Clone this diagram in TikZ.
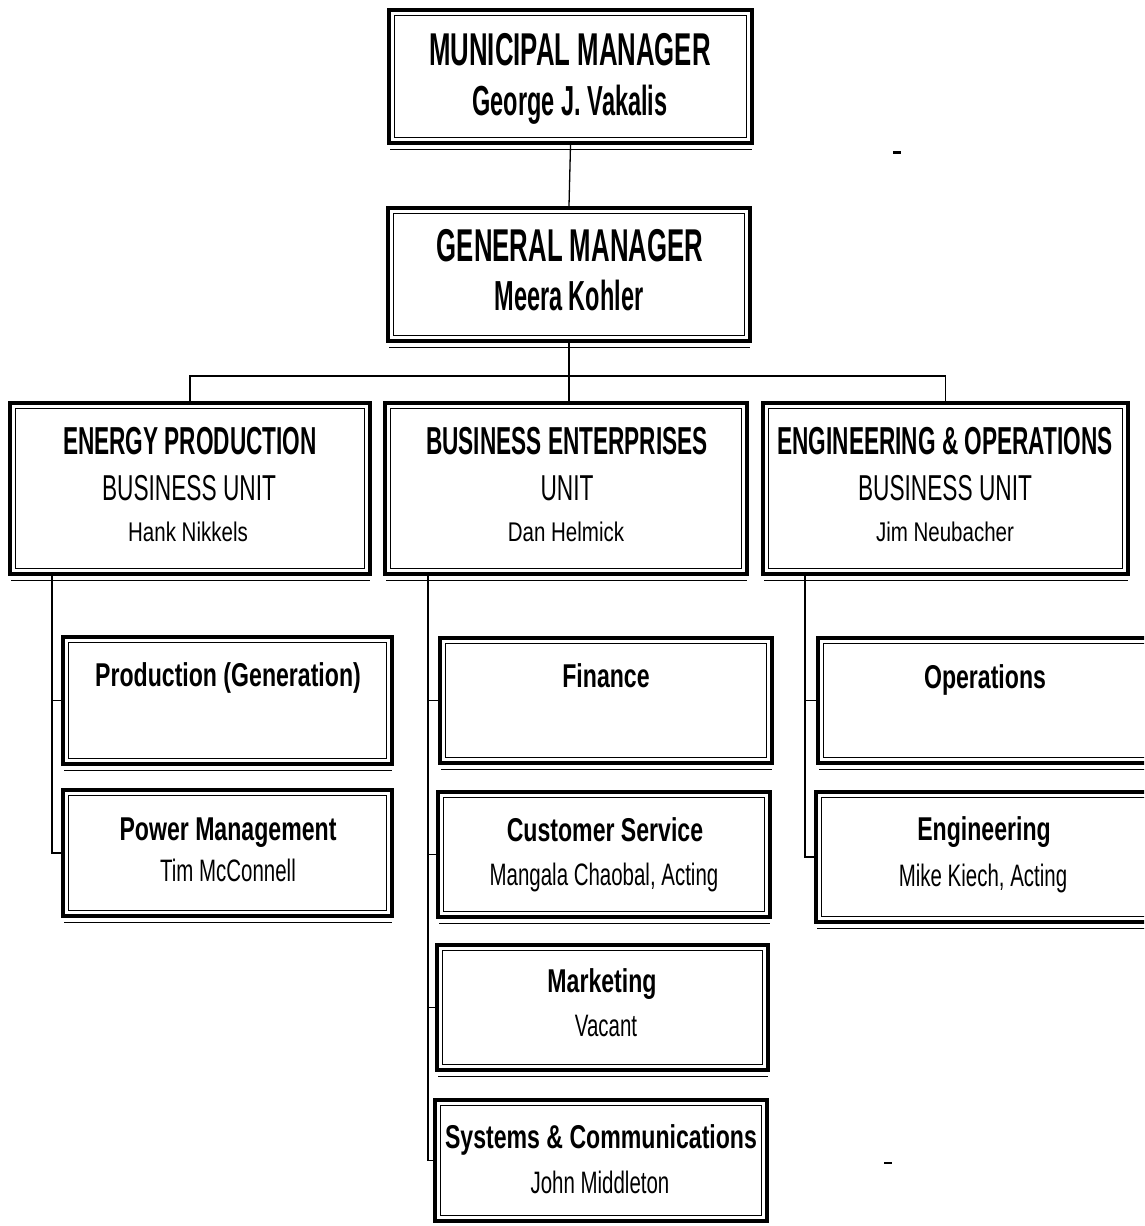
\documentclass[tikz,border=0pt]{standalone}
\usepackage{fontspec}
\newfontfamily\fTop[FakeStretch=0.56]{Liberation Sans}
\newfontfamily\fUnitA[FakeStretch=0.58]{Liberation Sans}
\newfontfamily\fUnitB[FakeStretch=0.63]{Liberation Sans}
\newfontfamily\fUnitC[FakeStretch=0.76]{Liberation Sans}
\newfontfamily\fSubA[FakeStretch=0.70]{Liberation Sans}
\newfontfamily\fSubB[FakeStretch=0.66]{Liberation Sans}
\begin{document}
\begin{tikzpicture}[x=1pt,y=-1pt,
  orgbox/.style={draw, line width=4pt, fill=white, inner sep=0pt,
    path picture={\draw[line width=1.3pt] ([shift={(5.5pt,-5.5pt)}]path picture bounding box.north west) rectangle ([shift={(-5.5pt,5.5pt)}]path picture bounding box.south east);}},
  link/.style={line width=1.3pt},
  shadowline/.style={line width=1.5pt},
  ttlA/.style={anchor=base, inner sep=0pt, font=\fTop\bfseries\fontsize{46}{46}\selectfont},
  ttlB/.style={anchor=base, inner sep=0pt, font=\fTop\bfseries\fontsize{42}{42}\selectfont},
  unitA/.style={anchor=base, inner sep=0pt, font=\fUnitA\bfseries\fontsize{39}{39}\selectfont},
  unitB/.style={anchor=base, inner sep=0pt, font=\fUnitB\fontsize{36}{36}\selectfont},
  unitC/.style={anchor=base, inner sep=0pt, font=\fUnitC\fontsize{27}{27}\selectfont},
  subA/.style={anchor=base, inner sep=0pt, font=\fSubA\bfseries\fontsize{33}{33}\selectfont},
  subB/.style={anchor=base, inner sep=0pt, font=\fSubB\fontsize{31}{31}\selectfont}
]
\useasboundingbox[fill=white] (0,0) rectangle (1144,1226);
\clip (0,0) rectangle (1144,1226);

% boxes
\node[orgbox, minimum width=363pt, minimum height=133pt] (mm) at (570.5,76.5) {};
\node[orgbox, minimum width=362pt, minimum height=133pt] (gm) at (569,274.5) {};
\node[orgbox, minimum width=360pt, minimum height=171pt] (ep) at (190,488.5) {};
\node[orgbox, minimum width=362pt, minimum height=171pt] (be) at (566,488.5) {};
\node[orgbox, minimum width=365pt, minimum height=171pt] (eo) at (945.5,488.5) {};
\node[orgbox, minimum width=329pt, minimum height=127pt] (pg) at (227.5,700.5) {};
\node[orgbox, minimum width=329pt, minimum height=126pt] (pm) at (227.5,853) {};
\node[orgbox, minimum width=332pt, minimum height=125pt] (fi) at (606,700.5) {};
\node[orgbox, minimum width=332pt, minimum height=125pt] (cs) at (604,854.5) {};
\node[orgbox, minimum width=331pt, minimum height=125pt] (mk) at (602.5,1007.5) {};
\node[orgbox, minimum width=332pt, minimum height=121pt] (sc) at (601,1160.5) {};
\node[orgbox, minimum width=334pt, minimum height=125pt] (op) at (985,700.5) {};
\node[orgbox, minimum width=336pt, minimum height=130pt] (en) at (984,857) {};

\foreach \b in {mm,gm,ep,be,eo,pg,pm,fi,cs,mk,sc,op,en}
  \draw[shadowline] ([shift={(3pt,-4.5pt)}]\b.south west) -- ([shift={(-2pt,-4.5pt)}]\b.south east);

% texts
\node[ttlA] (t1) at (570,65) {MUNICIPAL MANAGER};
\node[ttlB] (t2) at (570,115) {George J. Vakalis};
\node[ttlA] (t3) at (570,261) {GENERAL MANAGER};
\node[ttlB] (t4) at (569,310) {Meera Kohler};

\node[unitA] (t5) at (190,454) {ENERGY PRODUCTION};
\node[unitB] (t6) at (189,500) {BUSINESS UNIT};
\node[unitC] (t7) at (188,541) {Hank Nikkels};
\node[unitA] (t8) at (567,454) {BUSINESS ENTERPRISES};
\node[unitB] (t9) at (567,500) {UNIT};
\node[unitC] (t10) at (566,541) {Dan Helmick};
\node[unitA] (t11) at (945,454) {ENGINEERING \& OPERATIONS};
\node[unitB] (t12) at (945,500) {BUSINESS UNIT};
\node[unitC] (t13) at (945,541) {Jim Neubacher};

\node[subA] (t14) at (228,686) {Production (Generation)};
\node[subA] (t15) at (228,840) {Power Management};
\node[subB] (t16) at (228,881) {Tim McConnell};
\node[subA] (t17) at (606,687) {Finance};
\node[subA] (t18) at (605,841) {Customer Service};
\node[subB] (t19) at (604,885) {Mangala Chaobal, Acting};
\node[subA] (t20) at (602,992) {Marketing};
\node[subB] (t21) at (606,1036) {Vacant};
\node[subA] (t22) at (601,1148) {Systems \& Communications};
\node[subB] (t23) at (600,1193) {John Middleton};
\node[subA] (t24) at (985,688) {Operations};
\node[subA] (t25) at (984,840) {Engineering};
\node[subB] (t26) at (983,886) {Mike Kiech, Acting};

% connectors
\coordinate (bus) at (0,376);
\coordinate (spL) at (52,574);
\coordinate (spM) at (428,574);
\coordinate (spR) at (805,574);
\draw[link] (mm.south) -- (gm.north);
\draw[link] (gm.south) -- (gm.south |- be.north);
\draw[link] (ep.north) -- (ep.north |- bus) -| (eo.north);

\draw[link] (spL) -- (spL |- pm.west) -- (pm.west);
\draw[link] (spL |- pg.west) -- (pg.west);

\draw[link] (spM) -- (spM |- sc.west) -- (sc.west);
\draw[link] (spM |- fi.west) -- (fi.west);
\draw[link] (spM |- cs.west) -- (cs.west);
\draw[link] (spM |- mk.west) -- (mk.west);

\draw[link] (spR) -- (spR |- en.west) -- (en.west);
\draw[link] (spR |- op.west) -- (op.west);

% stray scan marks
\draw[line width=3pt] (893,152) -- (901,152);
\draw[line width=2pt] (884,1163) -- (892,1163);
\end{tikzpicture}
\end{document}
